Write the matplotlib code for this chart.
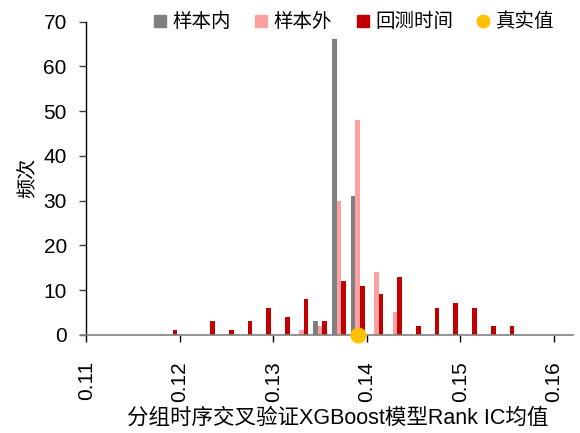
import matplotlib
matplotlib.use('Agg')
import matplotlib.pyplot as plt
from matplotlib.lines import Line2D
import numpy as np

plt.rcParams['font.family'] = ['Liberation Sans', 'Noto Sans CJK SC']
plt.rcParams['axes.unicode_minus'] = False

# bin centres of the Rank IC histogram
bin_centers = [0.119, 0.121, 0.123, 0.125, 0.127, 0.129, 0.131, 0.133, 0.135, 0.137,
               0.139, 0.141, 0.143, 0.145, 0.147, 0.149, 0.151, 0.153, 0.155]
in_sample = [0, 0, 0, 0, 0, 0, 0, 0, 3, 66, 31, 0, 0, 0, 0, 0, 0, 0, 0]
out_sample = [0, 0, 0, 0, 0, 0, 0, 1, 2, 30, 48, 14, 5, 0, 0, 0, 0, 0, 0]
backtest = [1, 0, 3, 1, 3, 6, 4, 8, 3, 12, 11, 9, 13, 2, 6, 7, 6, 2, 2]
true_value = 0.139

x_ticks = [0.11, 0.12, 0.13, 0.14, 0.15, 0.16]
y_ticks = [0, 10, 20, 30, 40, 50, 60, 70]

c_in = '#808080'
c_out = '#FFA0A0'
c_bt = '#C00000'
c_true = '#FFC000'

fig = plt.figure(figsize=(5.8, 4.33), dpi=100)
ax = fig.add_axes([0.1391, 0.2269, 0.8483, 0.7234])

x = np.array(bin_centers)
w = 0.0005
ax.bar(x - w, in_sample, w, color=c_in, zorder=2)
ax.bar(x, out_sample, w, color=c_out, zorder=2)
ax.bar(x + w, backtest, w, color=c_bt, zorder=2)
ax.plot([true_value], [0], 'o', color=c_true, markersize=10.5, clip_on=False, zorder=5)

ax.set_xlim(0.1094, 0.1620)
ax.set_ylim(0, 70)

for s in ['top', 'right']:
    ax.spines[s].set_visible(False)
ax.spines['left'].set_position(('data', 0.11))
ax.spines['left'].set_color('black')
ax.spines['left'].set_linewidth(1.0)
ax.spines['bottom'].set_color('#808080')
ax.spines['bottom'].set_linewidth(1.2)
ax.spines['bottom'].set_zorder(3)

ax.set_xticks(x_ticks)
ax.set_xticklabels([f'{t:.2f}' for t in x_ticks], rotation=90)
ax.set_yticks(y_ticks)
ax.tick_params(axis='x', length=5, width=1, color='black', labelsize=15, pad=14)
ax.tick_params(axis='y', length=5, width=1, color='#404040', labelsize=15, pad=9)

fig.text(0.583, 0.035, '分组时序交叉验证XGBoost模型Rank IC均值', ha='center', va='center', fontsize=15.5)
fig.text(0.048, 0.59, '频次', ha='center', va='center', rotation=90, fontsize=14.5)

handles = [
    Line2D([], [], marker='s', linestyle='none', color=c_in, markersize=8),
    Line2D([], [], marker='s', linestyle='none', color=c_out, markersize=8),
    Line2D([], [], marker='s', linestyle='none', color=c_bt, markersize=8),
    Line2D([], [], marker='o', linestyle='none', color=c_true, markersize=9),
]
labels = ['样本内', '样本外', '回测时间', '真实值']
fig.legend(handles, labels, loc='center', bbox_to_anchor=(0.61, 0.949), ncol=4,
           frameon=False, fontsize=14, handlelength=0.7, handletextpad=0.3,
           columnspacing=1.2, borderaxespad=0)

fig.savefig('out.png', dpi=100)
